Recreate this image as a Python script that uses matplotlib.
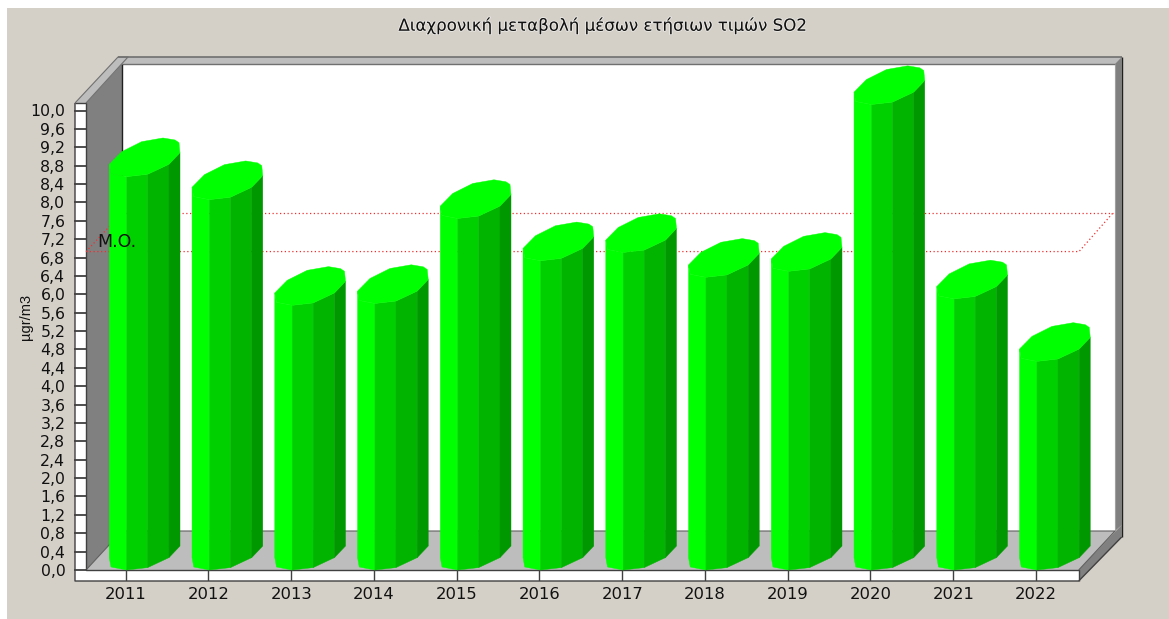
import matplotlib
matplotlib.use('Agg')
import matplotlib.pyplot as plt
import matplotlib.patheffects as pe
from matplotlib.patches import Polygon, Rectangle
from matplotlib.transforms import Affine2D

# -----------------------------------------------------------------------------
# data

years = ['2011', '2012', '2013', '2014', '2015', '2016',
         '2017', '2018', '2019', '2020', '2021', '2022']
values = [8.56, 8.06, 5.76, 5.80, 7.65, 6.73, 6.91, 6.37, 6.50, 10.13, 5.90, 4.54]
mean_value = 6.93
y_ticks = [0.0, 0.4, 0.8, 1.2, 1.6, 2.0, 2.4, 2.8, 3.2, 3.6, 4.0, 4.4, 4.8,
           5.2, 5.6, 6.0, 6.4, 6.8, 7.2, 7.6, 8.0, 8.4, 8.8, 9.2, 9.6, 10.0]
title = 'Διαχρονική μεταβολή μέσων ετήσιων τιμών SO2'
y_label = 'µgr/m3'
mean_label = 'M.O.'

# -----------------------------------------------------------------------------
# layout, in pixels of the picture

W, H = 1169, 619
STEP_X = 82.75      # pixels per category
STEP_Y = 45.95      # pixels per unit
X0, Y0 = 125.7, 570.0   # pixel of first category and of value 0
LEFT, RIGHT = 75.0, 1121.7
TOP, BOTTOM = 56.7, 581.0

# front outline of a bar (left to right), then the rest of its top, px from front point
FRONT = [(-16.4, 12.4), (-14.7, 3), (1, 0), (22, 2.4), (43.3, 12.4), (54.3, 24)]
BACK = [(53.3, 34), (49.3, 36.7), (37.3, 38.7), (16, 35), (-4, 25)]
FACE_COLORS = ['#00FF00', '#00D000', '#00B400', '#009800']

PANEL = '#D4D0C8'
LIGHT = '#BDBDBD'
WALL = '#808080'
EDGE = '#404040'

# -----------------------------------------------------------------------------
# axes

fig = plt.figure(figsize=(W/100, H/100), dpi=100, facecolor='white')
px = Affine2D().scale(1, -1).translate(0, H)   # picture pixels -> display

fig.patches.append(Rectangle((7, 8), W, H, transform=px, fc=PANEL, ec='none',
                             figure=fig, zorder=-1))

ax = fig.add_axes([LEFT/W, 1 - BOTTOM/H, (RIGHT - LEFT)/W, (BOTTOM - TOP)/H])
ax.set_xlim((LEFT - X0)/STEP_X, (RIGHT - X0)/STEP_X)
ax.set_ylim((Y0 - BOTTOM)/STEP_Y, (Y0 - TOP)/STEP_Y)
ax.patch.set_visible(False)
for s in ax.spines.values():
    s.set_visible(False)

ax.set_xticks(range(len(years)))
ax.set_xticklabels(years)
ax.set_yticks(y_ticks)
ax.set_yticklabels([f'{t:.1f}'.replace('.', ',') for t in y_ticks])
ax.tick_params(axis='both', length=0, labelcolor='#111111')
ax.tick_params(axis='x', pad=4, labelsize=11.8)
ax.tick_params(axis='y', pad=7, labelsize=11.3)

# -----------------------------------------------------------------------------
# box of the chart


def shape(points, color, z=1):
    ax.add_patch(Polygon(points, closed=True, transform=px, fc=color, ec='none',
                         zorder=z, clip_on=False))


def line(points, color=EDGE, lw=1.0, z=2):
    xs, ys = zip(*points)
    ax.plot(xs, ys, transform=px, color=color, lw=lw, zorder=z, clip_on=False,
            solid_capstyle='butt')


shape([(122, 64), (1115, 64), (1115, 531), (122, 531)], 'white')
shape([(86, 103), (122, 64), (122, 531), (86, 570)], WALL)
shape([(86, 570), (122, 531), (1115, 531), (1078.7, 570)], LIGHT)
shape([(75, 103), (118, 57), (128, 57), (86, 103)], LIGHT)
shape([(118, 57), (1121.7, 57), (1115, 64), (122, 64)], LIGHT)
shape([(1115, 64), (1121.7, 57), (1121.7, 525), (1115, 531)], WALL)
shape([(1078.7, 570), (1121.7, 525), (1121.7, 537), (1078.7, 581)], WALL)
shape([(75, 103), (86, 103), (86, 570), (75, 570)], 'white')
shape([(75, 570), (1078.7, 570), (1078.7, 581), (75, 581)], 'white')

line([(118, 57), (1121.7, 57)], color='#707070', lw=1.2)
line([(122, 64), (1115, 64)], color='#707070', lw=1.0)
line([(121.5, 64), (121.5, 531)], color='#202020', lw=1.0)
line([(1121.7, 57), (1121.7, 537)], color='#202020', lw=1.0)
line([(1115, 64), (1115, 531)], color='#A0A0A0', lw=0.8)
line([(75, 103), (118, 57), (128, 57), (86, 103)], color='#707070', lw=0.8)
line([(75, 103), (75, 581), (1078.7, 581), (1121.7, 537)], lw=1.0)
line([(86, 103), (86, 570), (1078.7, 570), (1078.7, 581)], lw=1.0)
line([(86, 570), (122, 531), (1115, 531), (1078.7, 570)], color='#606060', lw=0.8)
line([(75, 103), (86, 103)], lw=1.0)

for t in y_ticks:
    ax.plot([LEFT, 86], [Y0 - t*STEP_Y]*2, transform=px, color=EDGE, lw=1.3, zorder=2,
            clip_on=False)
for i in range(len(years)):
    ax.plot([i, i], [(Y0 - BOTTOM)/STEP_Y, 0], color=EDGE, lw=1.0, zorder=2)

# -----------------------------------------------------------------------------
# mean line, front and back

y_front = Y0 - mean_value*STEP_Y
y_back = y_front - 38.7
dots = dict(transform=px, color='#F03030', lw=0.9, ls=(0, (1, 2)), zorder=3, clip_on=False)
ax.plot([86, 1079, 1113], [y_front, y_front, y_back], **dots)
ax.plot([122, 1113], [y_back, y_back], **dots)
ax.plot([86, 122], [y_front, y_back], **dots)

# -----------------------------------------------------------------------------
# bars


def to_data(i, v, offset):
    return (i + offset[0]/STEP_X, v + offset[1]/STEP_Y)


for i, v in enumerate(values):
    z = 4 + i*0.01
    # first face has the rounded corner, the others are plain quads
    pts = [to_data(i, v, FRONT[0]), to_data(i, v, FRONT[1]), to_data(i, v, FRONT[2]),
           to_data(i, 0, FRONT[2]), to_data(i, 0, FRONT[1]), to_data(i, 0, FRONT[0])]
    ax.fill(*zip(*pts), color=FACE_COLORS[0], lw=0.3, zorder=z, clip_on=False)
    for k, c in enumerate(FACE_COLORS[1:]):
        a, b = FRONT[k + 2], FRONT[k + 3]
        pts = [to_data(i, 0, a), to_data(i, 0, b), to_data(i, v, b), to_data(i, v, a)]
        ax.fill(*zip(*pts), color=c, lw=0.3, zorder=z, clip_on=False)
    top = [to_data(i, v, p) for p in FRONT + BACK]
    ax.fill(*zip(*top), color='#00FF00', lw=0.3, zorder=z, clip_on=False)

# -----------------------------------------------------------------------------
# texts

fig.text(602/W, 1 - 25.5/H, title, ha='center', va='center', fontsize=12, color='#111111',
         path_effects=[pe.withStroke(linewidth=1.2, foreground='white', alpha=0.6)])
fig.text(26/W, 1 - 317/H, y_label, rotation=90, ha='center', va='center',
         fontsize=10.5, family='Liberation Sans', color='#111111')
ax.text(97, y_front - 1, mean_label, transform=px, fontsize=12.5, color='#111111',
        ha='left', va='bottom', zorder=6, clip_on=False)

fig.savefig('out.png', dpi=100, facecolor=fig.get_facecolor())
